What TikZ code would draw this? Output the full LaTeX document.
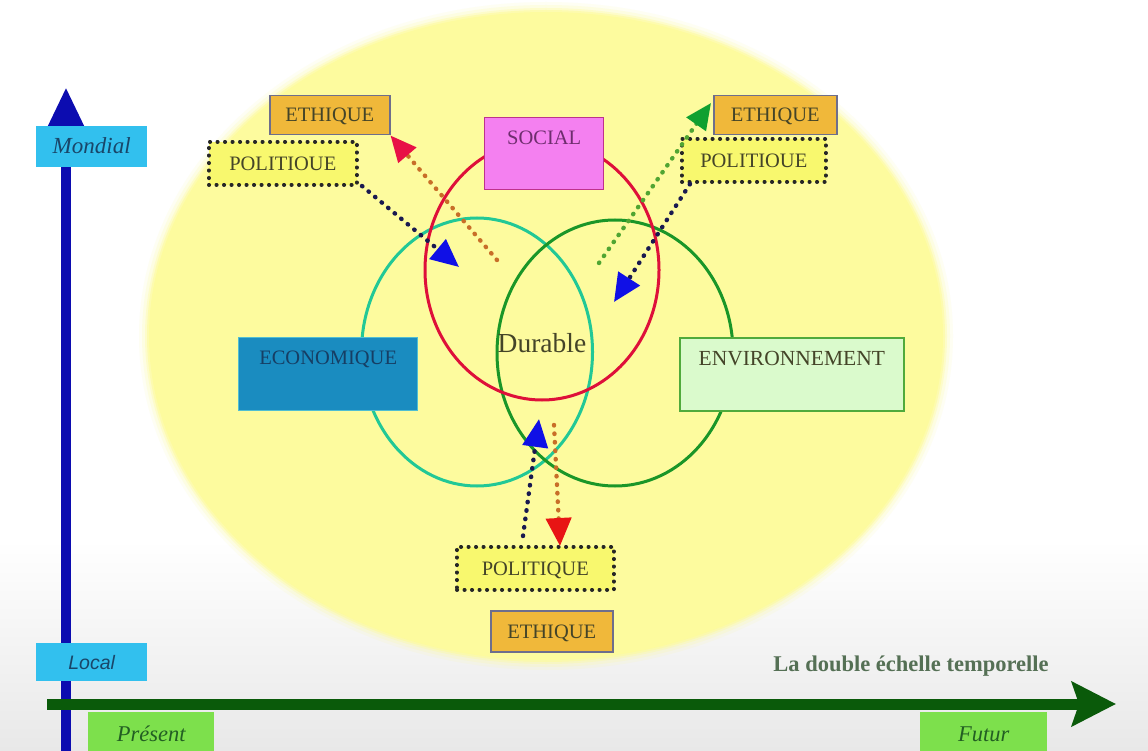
\documentclass[tikz,border=0pt]{standalone}
\usepackage{fontspec}
\setmainfont{Liberation Serif}
\newfontfamily\arialf{Liberation Sans}
\usetikzlibrary{arrows.meta}
\definecolor{ellcol}{RGB}{253,251,158}
\definecolor{redc}{RGB}{222,16,58}
\definecolor{tealc}{RGB}{34,200,150}
\definecolor{greenc}{RGB}{26,150,40}
\definecolor{socfill}{RGB}{244,128,240}
\definecolor{socdraw}{RGB}{190,50,140}
\definecolor{socText}{RGB}{110,45,110}
\definecolor{ecofill}{RGB}{26,140,192}
\definecolor{ecodraw}{RGB}{80,190,210}
\definecolor{ecoText}{RGB}{22,62,100}
\definecolor{envfill}{RGB}{218,250,204}
\definecolor{envdraw}{RGB}{80,170,60}
\definecolor{ethfill}{RGB}{240,184,58}
\definecolor{ethdraw}{RGB}{110,110,140}
\definecolor{polfill}{RGB}{248,248,110}
\definecolor{boxText}{RGB}{68,68,40}
\definecolor{cyanbox}{RGB}{50,192,238}
\definecolor{cyanText}{RGB}{25,70,105}
\definecolor{timefill}{RGB}{125,224,76}
\definecolor{timeText}{RGB}{35,95,35}
\definecolor{blueax}{RGB}{12,12,176}
\definecolor{greenax}{RGB}{10,90,10}
\definecolor{navydot}{RGB}{25,25,80}
\definecolor{orangedot}{RGB}{200,110,40}
\definecolor{greendot}{RGB}{80,165,50}
\definecolor{tipblue}{RGB}{16,16,230}
\definecolor{tipred}{RGB}{232,16,70}
\definecolor{tipred2}{RGB}{232,20,20}
\definecolor{tipgreen}{RGB}{16,160,48}
\definecolor{titleText}{RGB}{85,112,85}
\tikzset{
  tbox/.style={inner xsep=0pt, inner ysep=0pt, anchor=north west, align=center, font=\fontsize{20.5}{21}\selectfont, text=boxText},
  cbox/.style={tbox, text height=13.5pt, text depth=0pt},
  ethbox/.style={cbox, draw=ethdraw, fill=ethfill, line width=1.5pt},
  polbox/.style={cbox, draw=black!85, fill=polfill, line width=3.6pt, dash pattern=on 0.5pt off 7pt, line cap=round},
  dotline/.style={line width=4.4pt, dash pattern=on 0.5pt off 8pt, line cap=round},
  ring/.style={line width=3pt},
  axbox/.style={tbox, fill=cyanbox, text=cyanText, text height=14pt, text depth=0pt},
  timebox/.style={tbox, fill=timefill, text=timeText, text height=15pt, text depth=0pt, font=\fontsize{22.5}{23}\selectfont\itshape},
}
\begin{document}
\begin{tikzpicture}[x=1pt,y=-1pt]
\useasboundingbox (0,0) rectangle (1148,751);
\fill[white] (0,0) rectangle (1148,751);
\shade[top color=white, bottom color=black!9] (0,540) rectangle (1148,751);
% big yellow ellipse with soft edge
\foreach \d/\o in {10/0.12,7/0.2,4/0.35,2/0.6}
  \fill[ellcol, opacity=\o] (546,336) ellipse [x radius={(397+\d)*1pt}, y radius={(324+\d)*1pt}];
\fill[ellcol] (546,336) ellipse [x radius=397pt, y radius=324pt];
% circles
\draw[ring, tealc] (477,352) ellipse [x radius=115.5pt, y radius=134pt];
\draw[ring, greenc] (615,353) ellipse [x radius=118pt, y radius=133pt];
\draw[ring, redc] (542,270) ellipse [x radius=117pt, y radius=130pt];
\node[font=\fontsize{27.5}{29}\selectfont, text=boxText] (dur) at (542,343) {Durable};
% axes
\coordinate (vbase) at (66,760);
\coordinate (vtip) at (66,87);
\coordinate (hbase) at (47,704);
\coordinate (htip) at (1116,704);
\draw[blueax, line width=10pt, -{Triangle[length=40pt,width=34pt]}] (vbase) -- (vtip);
\draw[greenax, line width=11pt, -{Stealth[length=44pt,width=44pt,inset=7pt]}] (hbase) -- (htip);
% boxes
\node[tbox, draw=socdraw, fill=socfill, line width=1.3pt, text=socText, minimum width=119pt, text height=27pt, text depth=45pt] (soc) at (484,117) {SOCIAL};
\node[tbox, draw=ecodraw, fill=ecofill, line width=1.3pt, text=ecoText, minimum width=179pt, text height=27pt, text depth=46pt] (eco) at (238,337) {ECONOMIQUE};
\node[tbox, draw=envdraw, fill=envfill, line width=1.6pt, minimum width=224pt, text height=28pt, text depth=45pt, font=\fontsize{21.5}{22}\selectfont] (env) at (679,337) {ENVIRONNEMENT};
\node[ethbox, minimum width=120pt, minimum height=39pt] (ethL) at (269,95) {ETHIQUE};
\node[polbox, minimum width=148pt, minimum height=43pt] (polL) at (207,140) {POLITIOUE};
\node[ethbox, minimum width=123pt, minimum height=39pt] (ethR) at (713,95) {ETHIQUE};
\node[polbox, minimum width=144pt, minimum height=43pt] (polR) at (680,137) {POLITIOUE};
\node[polbox, minimum width=157pt, minimum height=43pt] (polB) at (455,545) {POLITIQUE};
\node[ethbox, minimum width=122pt, minimum height=41pt] (ethB) at (490,610) {ETHIQUE};
% dotted arrows
\coordinate (b1s) at (362,186);
\coordinate (b1t) at (459,267);
\coordinate (r1s) at (497,260);
\coordinate (g1s) at (599,263);
\coordinate (g1t) at (711,103);
\coordinate (b2s) at (690,184);
\coordinate (b2t) at (614,302);
\coordinate (b3s) at (523,536);
\coordinate (b3t) at (539,419);
\coordinate (r3s) at (554,425);
\coordinate (r3t) at (560,546);
\draw[dotline, navydot, -{Triangle[length=28pt,width=25pt,color=tipblue]}] (b1s) -- (b1t);
\draw[dotline, orangedot, -{Triangle[length=26pt,width=23pt,color=tipred]}] (r1s) -- (ethL.south east);
\draw[dotline, greendot, -{Triangle[length=26pt,width=23pt,color=tipgreen]}] (g1s) -- (g1t);
\draw[dotline, navydot, -{Triangle[length=28pt,width=25pt,color=tipblue]}] (b2s) -- (b2t);
\draw[dotline, navydot, -{Triangle[length=28pt,width=25pt,color=tipblue]}] (b3s) -- (b3t);
\draw[dotline, orangedot, -{Triangle[length=28pt,width=25pt,color=tipred2]}] (r3s) -- (r3t);
% axis labels
\node[axbox, minimum width=111pt, minimum height=41pt, font=\fontsize{23}{24}\selectfont\itshape] (mond) at (36,126) {Mondial};
\node[axbox, minimum width=111pt, minimum height=38pt, font=\arialf\fontsize{19.5}{20}\selectfont\itshape] (loc) at (36,643) {Local};
\node[timebox, minimum width=126pt, minimum height=44pt] (pres) at (88,712) {Présent};
\node[timebox, minimum width=127pt, minimum height=44pt] (fut) at (920,712) {Futur};
\node[font=\fontsize{22.5}{24}\selectfont\bfseries, text=titleText] (titre) at (911,666) {La double échelle temporelle};
\end{tikzpicture}
\end{document}
